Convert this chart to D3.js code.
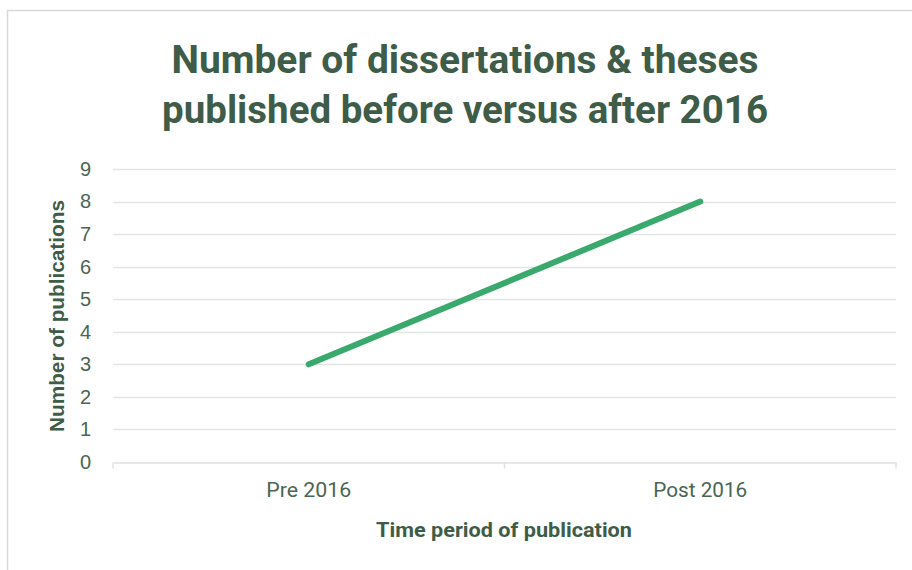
<!DOCTYPE html>
<html><head><meta charset="utf-8">
<script src="https://cdn.jsdelivr.net/npm/d3@7"></script>
<style>
html,body{margin:0;padding:0;background:#fff;}
svg{display:block;}
</style></head>
<body>
<svg id="chart" width="912" height="570"></svg>
<script>
const categories = ["Pre 2016", "Post 2016"];
const values = [3, 8];
const yTicks = [0,1,2,3,4,5,6,7,8,9];
const titleLines = ["Number of dissertations & theses", "published before versus after 2016"];
const xTitle = "Time period of publication";
const yTitle = "Number of publications";

const svg = d3.select("#chart");
const W = 912, H = 570;
const m = {left:113, right:16, top:169, bottom:108};
const textColor = "#4a6652";
const titleColor = "#3e5c48";
const narrow = "Roboto, 'DejaVu Sans Condensed', sans-serif";
const arial = "'Liberation Sans', Arial, sans-serif";

svg.append("rect").attr("x",7.5).attr("y",10.5).attr("width",W).attr("height",H)
  .attr("fill","#fff").attr("stroke","#d9d9d9").attr("stroke-width",1.5);

const x = d3.scaleBand().domain(categories).range([m.left, W-m.right]);
const y = d3.scaleLinear().domain([0,9]).range([H-m.bottom, m.top]);

// gridlines
svg.append("g").selectAll("line").data(yTicks.filter(d=>d>0)).join("line")
  .attr("x1",m.left).attr("x2",W-m.right)
  .attr("y1",d=>Math.round(y(d))+0.5).attr("y2",d=>Math.round(y(d))+0.5)
  .attr("stroke","#e1e6e3").attr("stroke-width",1.5);

// x axis
const xAxis = svg.append("g").attr("transform",`translate(0,${Math.round(y(0))+0.5})`)
  .call(d3.axisBottom(x).tickSize(0).tickFormat(d=>d));
xAxis.select(".domain").attr("stroke","#dde3e0").attr("stroke-width",1.5);
const catLen = {"Pre 2016":85, "Post 2016":94};
xAxis.selectAll("text").attr("font-family",narrow).attr("font-size",20).attr("fill",textColor)
  .attr("dy","1.55em").attr("textLength",d=>catLen[d]).attr("lengthAdjust","spacingAndGlyphs");
// category boundary ticks
const bounds = [m.left, m.left + x.bandwidth(), W-m.right];
xAxis.selectAll("line.b").data(bounds).join("line").attr("class","b")
  .attr("x1",d=>d).attr("x2",d=>d).attr("y1",0).attr("y2",6)
  .attr("stroke","#dde3e0").attr("stroke-width",1.5);

// y axis labels
const yAxis = svg.append("g").attr("transform",`translate(${m.left},0)`)
  .call(d3.axisLeft(y).tickValues(yTicks).tickSize(0).tickPadding(22));
yAxis.select(".domain").remove();
yAxis.selectAll("text").attr("font-family",arial).attr("font-size",20).attr("fill",textColor);

// line
const line = d3.line().x((d,i)=>x(categories[i])+x.bandwidth()/2).y(d=>y(d));
svg.append("path").datum(values).attr("d",line).attr("fill","none")
  .attr("stroke","#3aa96d").attr("stroke-width",6).attr("stroke-linecap","round");

// title
const titleLen = [587, 606];
svg.append("text").attr("text-anchor","middle").attr("font-family",narrow).attr("font-weight","bold")
  .attr("font-size",39).attr("fill",titleColor)
  .selectAll("tspan").data(titleLines).join("tspan")
  .attr("x",465).attr("y",(d,i)=>73+i*50).attr("textLength",(d,i)=>titleLen[i])
  .attr("lengthAdjust","spacingAndGlyphs").text(d=>d);

// axis titles
svg.append("text").attr("x",504).attr("y",537).attr("text-anchor","middle")
  .attr("font-family",narrow).attr("font-weight","bold").attr("font-size",21).attr("fill",titleColor)
  .attr("textLength",256).attr("lengthAdjust","spacingAndGlyphs").text(xTitle);
svg.append("text").attr("transform","translate(64,316) rotate(-90)").attr("text-anchor","middle")
  .attr("font-family",arial).attr("font-weight","bold").attr("font-size",20).attr("fill",titleColor)
  .attr("textLength",232).attr("lengthAdjust","spacingAndGlyphs").text(yTitle);
</script>
</body></html>
